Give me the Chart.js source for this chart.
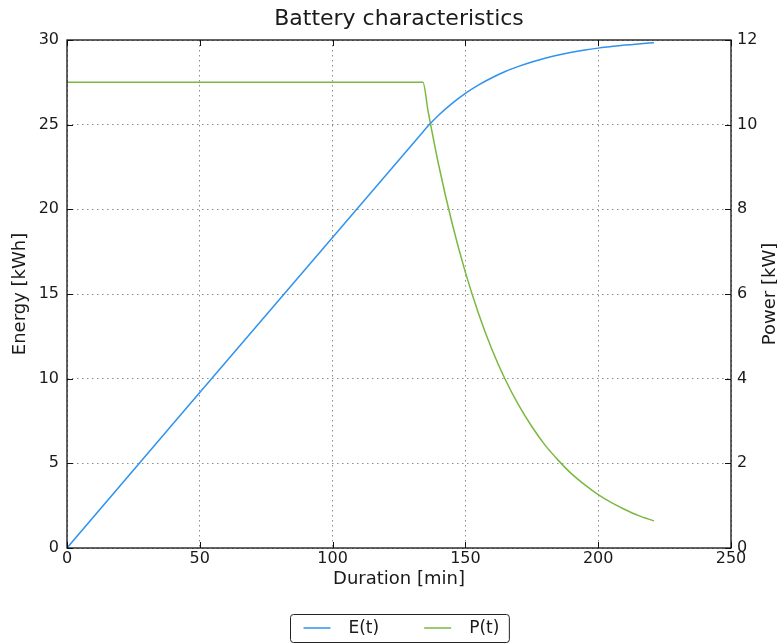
<!DOCTYPE html>
<html>
<head>
<meta charset="utf-8">
<script src="https://cdn.jsdelivr.net/npm/chart.js@4/dist/chart.umd.min.js"></script>
<style>
  body { margin: 0; background: #fff; }
  #wrap { width: 777px; height: 644px; }
</style>
</head>
<body>
<div id="wrap"><canvas id="battery" width="777" height="644"></canvas></div>
<script>
// values
const durationMin = [0, 134, 136, 140, 145, 150, 155, 160, 165, 170, 175, 180, 185, 190, 195, 200, 205, 210, 215, 221];
const energyKWh = [0, 24.57, 24.93, 25.57, 26.26, 26.85, 27.35, 27.77, 28.14, 28.44, 28.70, 28.92, 29.11, 29.27, 29.41, 29.52, 29.61, 29.70, 29.77, 29.84];
const powerKW = [11, 11, 10.3, 9.03, 7.67, 6.51, 5.53, 4.69, 3.98, 3.38, 2.87, 2.43, 2.07, 1.75, 1.49, 1.26, 1.07, 0.91, 0.77, 0.64];

const titleText = 'Battery characteristics';
const xLabel = 'Duration [min]';
const yLabel = 'Energy [kWh]';
const y2Label = 'Power [kW]';
const seriesNames = ['E(t)', 'P(t)'];
const seriesColors = ['#2f93ee', '#7ab840'];

const fontFamily = '"DejaVu Sans", sans-serif';
const textColor = '#1a1a1a';

Chart.defaults.font.family = fontFamily;
Chart.defaults.font.size = 16;
Chart.defaults.color = textColor;

const toPoints = (ys) => durationMin.map((x, i) => ({ x, y: ys[i] }));

const gridStyle = {
  color: 'rgba(0, 0, 0, 0.45)',
  lineWidth: 1,
  drawTicks: false,
};

// frame, inward ticks, title, right-hand label and the boxed legend
const decorations = {
  id: 'decorations',
  afterDatasetsDraw(chart) {
    const { ctx, chartArea: a, scales } = chart;
    ctx.save();
    ctx.strokeStyle = '#111';
    ctx.lineWidth = 1;
    const tick = 6;
    ctx.beginPath();
    scales.x.ticks.forEach((t) => {
      const px = Math.round(scales.x.getPixelForValue(t.value)) + 0.5;
      ctx.moveTo(px, a.bottom); ctx.lineTo(px, a.bottom - tick);
      ctx.moveTo(px, a.top); ctx.lineTo(px, a.top + tick);
    });
    scales.y.ticks.forEach((t) => {
      const py = Math.round(scales.y.getPixelForValue(t.value)) + 0.5;
      ctx.moveTo(a.left, py); ctx.lineTo(a.left + tick, py);
    });
    scales.y2.ticks.forEach((t) => {
      const py = Math.round(scales.y2.getPixelForValue(t.value)) + 0.5;
      ctx.moveTo(a.right, py); ctx.lineTo(a.right - tick, py);
    });
    ctx.stroke();

    ctx.lineWidth = 1.3;
    ctx.strokeRect(a.left, a.top, a.right - a.left, a.bottom - a.top);
    ctx.restore();
  },
  afterDraw(chart) {
    const { ctx, chartArea: a } = chart;
    const midX = (a.left + a.right) / 2;
    ctx.save();
    ctx.fillStyle = textColor;

    ctx.font = `22px ${fontFamily}`;
    ctx.textAlign = 'center';
    ctx.textBaseline = 'middle';
    ctx.fillText(titleText, midX, 19);

    ctx.font = `18px ${fontFamily}`;
    ctx.save();
    ctx.translate(770, (a.top + a.bottom) / 2);
    ctx.rotate(-Math.PI / 2);
    ctx.fillText(y2Label, 0, 0);
    ctx.restore();

    // legend
    ctx.font = `17px ${fontFamily}`;
    const sample = 27, gapText = 18, gapItem = 45, padL = 13, padR = 10;
    const widths = seriesNames.map((n) => ctx.measureText(n).width);
    let total = padL + padR;
    widths.forEach((w, i) => { total += sample + gapText + w + (i ? gapItem : 0); });
    const boxTop = 614, boxH = 28;
    const boxLeft = Math.round(midX - total / 2) + 0.5;
    ctx.fillStyle = '#fff';
    ctx.strokeStyle = '#222';
    ctx.lineWidth = 1;
    ctx.beginPath();
    ctx.roundRect(boxLeft, boxTop + 0.5, total, boxH, 3);
    ctx.fill();
    ctx.stroke();
    let x = boxLeft + padL;
    const cy = boxTop + boxH / 2;
    seriesNames.forEach((name, i) => {
      ctx.strokeStyle = seriesColors[i];
      ctx.lineWidth = 1.5;
      ctx.beginPath();
      ctx.moveTo(x, cy); ctx.lineTo(x + sample, cy);
      ctx.stroke();
      x += sample + gapText;
      ctx.fillStyle = textColor;
      ctx.textAlign = 'left';
      ctx.fillText(name, x, cy + 1);
      x += widths[i] + gapItem;
    });
    ctx.restore();
  },
};

new Chart(document.getElementById('battery'), {
  type: 'line',
  data: {
    datasets: [
      {
        label: seriesNames[0],
        data: toPoints(energyKWh),
        yAxisID: 'y',
        borderColor: seriesColors[0],
        borderWidth: 1.5,
        pointRadius: 0,
        cubicInterpolationMode: 'monotone',
      },
      {
        label: seriesNames[1],
        data: toPoints(powerKW),
        yAxisID: 'y2',
        borderColor: seriesColors[1],
        borderWidth: 1.5,
        pointRadius: 0,
        cubicInterpolationMode: 'monotone',
      },
    ],
  },
  options: {
    responsive: false,
    animation: false,
    layout: { padding: { top: 40, bottom: 48, left: 0, right: 0 } },
    plugins: {
      legend: { display: false },
      tooltip: { enabled: false },
    },
    scales: {
      x: {
        type: 'linear',
        min: 0,
        max: 250,
        ticks: { stepSize: 50, padding: 1, maxRotation: 0 },
        grid: { ...gridStyle, borderDash: [1.5, 3.5] },
        border: { display: false, dash: [1.5, 3.5] },
        title: { display: true, text: xLabel, font: { size: 18 }, padding: { top: 0, bottom: 6 } },
        afterFit: (scale) => { scale.height = 48; },
      },
      y: {
        position: 'left',
        min: 0,
        max: 30,
        ticks: { stepSize: 5, padding: 8 },
        grid: gridStyle,
        border: { display: false, dash: [1.5, 3.5] },
        title: { display: true, text: yLabel, font: { size: 18 }, padding: { top: 10, bottom: 0 } },
        afterFit: (scale) => { scale.width = 67; },
      },
      y2: {
        position: 'right',
        min: 0,
        max: 12,
        ticks: { stepSize: 2, padding: 6 },
        grid: { drawOnChartArea: false, drawTicks: false },
        border: { display: false },
        afterFit: (scale) => { scale.width = 46; },
      },
    },
  },
  plugins: [decorations],
});
</script>
</body>
</html>
